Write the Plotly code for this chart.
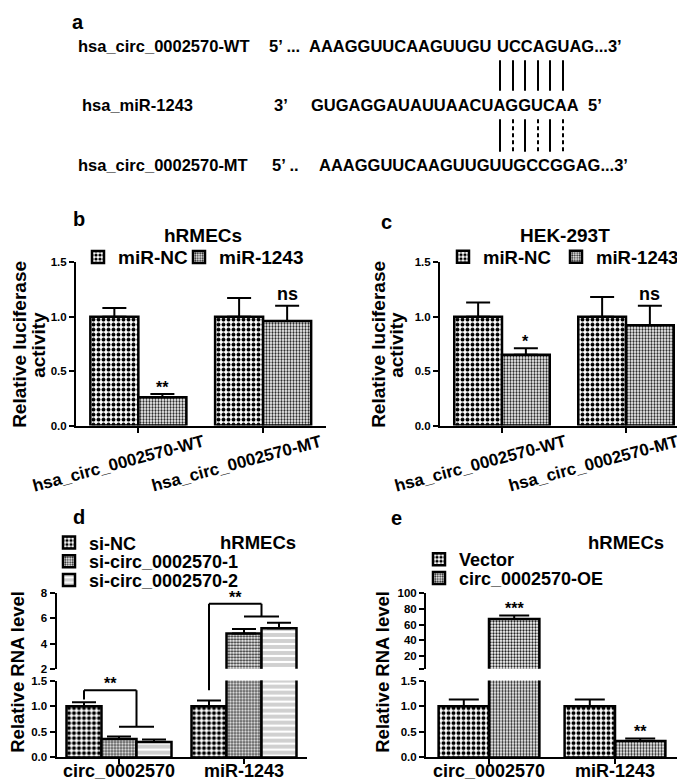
import plotly.graph_objects as go

# ---------------- data ----------------
groups_bc = ["hsa_circ_0002570-WT", "hsa_circ_0002570-MT"]
b_nc = [1.0, 1.0]
b_nc_err = [0.08, 0.17]
b_mir = [0.26, 0.96]
b_mir_err = [0.03, 0.14]
c_nc = [1.0, 1.0]
c_nc_err = [0.13, 0.18]
c_mir = [0.65, 0.92]
c_mir_err = [0.06, 0.18]

groups_de = ["circ_0002570", "miR-1243"]
d_nc = [1.0, 1.0]
d_nc_err = [0.08, 0.11]
d_si1 = [0.36, 4.8]
d_si1_err = [0.05, 0.35]
d_si2 = [0.30, 5.2]
d_si2_err = [0.05, 0.45]
e_vec = [1.0, 1.0]
e_vec_err = [0.13, 0.13]
e_oe = [67.0, 0.32]
e_oe_err = [4.5, 0.05]

bc_ticks = [0.0, 0.5, 1.0, 1.5]
low_ticks = [0.0, 0.5, 1.0, 1.5]
d_up_ticks = [2, 4, 6, 8]
e_up_ticks = [4, 20, 40, 60, 80, 100]

seq_wt = ["hsa_circ_0002570-WT", "5\u2019 ...", "AAAGGUUCAAGUUGU", "UCCAGUAG...3\u2019"]
seq_mir = ["hsa_miR-1243", "3\u2019", "GUGAGGAUAUUAACUAGGUCAA", "5\u2019"]
seq_mt = ["hsa_circ_0002570-MT", "5\u2019 ..", "AAAGGUUCAAGUUGUUGCCGGAG...3\u2019"]
pair_kind = ["solid", "dash", "solid", "dash", "solid", "dash"]

# ---------------- helpers ----------------
W, H = 685, 783
FONT = "Liberation Sans, Arial, sans-serif"


def px(x):
    return x / W


def py(y):
    return 1 - y / H


def to_paper(v, dom, rng):
    return dom[0] + (v - rng[0]) / (rng[1] - rng[0]) * (dom[1] - dom[0])


def bfont(size):
    return dict(family=FONT, size=size, color="black", weight="bold")


NC_PAT = dict(shape=".", size=5, solidity=0.5, fgcolor="black", bgcolor="white", fillmode="replace")
GRAY_PAT = dict(shape=".", size=3, solidity=0.45, fgcolor="#222222", bgcolor="white", fillmode="replace")
STRIPE_PAT = dict(shape="-", size=6, solidity=0.35, fgcolor="white", bgcolor="#d0d0d0", fillmode="replace")

xs = [0, 1]


def bar(y, err, name, pat, xa, ya, legend, width, offset, showlegend=True, capw=12):
    return go.Bar(
        x=xs, y=y, name=name, xaxis=xa, yaxis=ya, legend=legend, showlegend=showlegend,
        width=width, offset=offset,
        marker=dict(color=pat["bgcolor"], pattern=pat, line=dict(color="black", width=2.5)),
        error_y=dict(type="data", array=err, arrayminus=[0] * len(err), symmetric=False,
                     color="black", thickness=2, width=capw),
        hoverinfo="skip",
    )


fig = go.Figure()

# b
wb = 0.385
fig.add_trace(bar(b_nc, b_nc_err, "miR-NC", NC_PAT, "x", "y", "legend", wb, -wb))
fig.add_trace(bar(b_mir, b_mir_err, "miR-1243", GRAY_PAT, "x", "y", "legend2", wb, 0))
# c
fig.add_trace(bar(c_nc, c_nc_err, "miR-NC", NC_PAT, "x2", "y2", "legend3", wb, -wb))
fig.add_trace(bar(c_mir, c_mir_err, "miR-1243", GRAY_PAT, "x2", "y2", "legend4", wb, 0))
# d (lower + upper)
wd = 0.28
for ya, show in (("y3", True), ("y4", False)):
    fig.add_trace(bar(d_nc, d_nc_err, "si-NC", NC_PAT, "x3", ya, "legend5", wd, -1.5 * wd, show, 12))
    fig.add_trace(bar(d_si1, d_si1_err, "si-circ_0002570-1", GRAY_PAT, "x3", ya, "legend6", wd, -0.5 * wd, show, 12))
    fig.add_trace(bar(d_si2, d_si2_err, "si-circ_0002570-2", STRIPE_PAT, "x3", ya, "legend7", wd, 0.5 * wd, show, 12))
# e (lower + upper)
we = 0.4
for ya, show in (("y5", True), ("y6", False)):
    fig.add_trace(bar(e_vec, e_vec_err, "Vector", NC_PAT, "x4", ya, "legend8", we, -we, show, 15))
    fig.add_trace(bar(e_oe, e_oe_err, "circ_0002570-OE", GRAY_PAT, "x4", ya, "legend9", we, 0, show, 15))

# ---------------- axes ----------------
B_X = [px(68), px(317.5)]
C_X = [px(432), px(680)]
BC_Y = [py(418), py(252)]
D_X = [px(48.5), px(298.5)]
E_X = [px(418), px(670)]
LOW_Y = [py(755), py(677)]
D_UP_Y = [py(665), py(588)]
E_UP_Y = [py(665), py(588)]
LOW_R = [0, 1.5]
D_UP_R = [2, 8]
E_UP_R = [4, 100]
X_R = [-0.5, 1.5]

common = dict(showline=True, linecolor="black", linewidth=2, ticks="outside", ticklen=5,
              tickwidth=2, tickcolor="black", showgrid=False, zeroline=False, fixedrange=True,
              tickfont=bfont(11.5))


def xax(domain, anchor):
    return dict(common, domain=domain, range=X_R, anchor=anchor, tickvals=xs, showticklabels=False)


def yax(domain, rng, anchor, tv, tt):
    return dict(common, domain=domain, range=rng, anchor=anchor, tickvals=tv, ticktext=tt)


fmt1 = lambda v: "%.1f" % v
fig.update_layout(
    xaxis=xax(B_X, "y"),
    yaxis=yax(BC_Y, LOW_R, "x", bc_ticks, [fmt1(v) for v in bc_ticks]),
    xaxis2=xax(C_X, "y2"),
    yaxis2=yax(BC_Y, LOW_R, "x2", bc_ticks, [fmt1(v) for v in bc_ticks]),
    xaxis3=xax(D_X, "y3"),
    yaxis3=yax(LOW_Y, LOW_R, "x3", low_ticks, [fmt1(v) for v in low_ticks]),
    yaxis4=yax(D_UP_Y, D_UP_R, "x3", d_up_ticks, [str(v) for v in d_up_ticks]),
    xaxis4=xax(E_X, "y5"),
    yaxis5=yax(LOW_Y, LOW_R, "x4", low_ticks, [fmt1(v) for v in low_ticks]),
    yaxis6=yax(E_UP_Y, E_UP_R, "x4", e_up_ticks, ["" if v == 4 else str(v) for v in e_up_ticks]),
)


# ---------------- legends ----------------
def leg(x, y, size=19):
    return dict(x=px(x), y=py(y), xanchor="left", yanchor="middle", bgcolor="rgba(0,0,0,0)",
                borderwidth=0, font=bfont(size), orientation="v", itemclick=False,
                itemdoubleclick=False, itemwidth=30)


fig.update_layout(
    width=W, height=H, margin=dict(l=0, r=0, t=0, b=0),
    paper_bgcolor="white", plot_bgcolor="rgba(0,0,0,0)", barmode="overlay",
    legend=leg(70, 247), legend2=leg(171, 247),
    legend3=leg(435, 247, 18.5), legend4=leg(548, 247, 18.5),
    legend5=leg(41, 537, 18), legend6=leg(41, 556, 18), legend7=leg(41, 575, 18),
    legend8=leg(411, 554, 18), legend9=leg(411, 573, 18),
)

ann = []


def A(text, x, y, size=16.5, xanchor="left", yanchor="middle", **kw):
    ann.append(dict(text=text, x=px(x), y=py(y), xref="paper", yref="paper", showarrow=False,
                    xanchor=xanchor, yanchor=yanchor, font=bfont(size), **kw))


# panel a text
A(seq_wt[0], 68, 32); A(seq_wt[1], 259, 32); A(seq_wt[2], 299, 32); A(seq_wt[3], 487, 32)
A(seq_mir[0], 72, 92); A(seq_mir[1], 264, 92); A(seq_mir[2], 301, 92); A(seq_mir[3], 578, 92)
A(seq_mt[0], 68, 153); A(seq_mt[1], 262, 153); A(seq_mt[2], 309, 153)

shapes = []
pair_x = [492, 505, 517, 530, 542, 555]
for xx, kind in zip(pair_x, pair_kind):
    shapes.append(dict(type="line", xref="paper", yref="paper", x0=px(xx), x1=px(xx),
                       y0=py(47), y1=py(78), line=dict(color="black", width=2)))
    shapes.append(dict(type="line", xref="paper", yref="paper", x0=px(xx), x1=px(xx),
                       y0=py(107), y1=py(140),
                       line=dict(color="black", width=2, dash="solid" if kind == "solid" else "4px,3px")))

# panel letters
A("a", 70, 8, 20, "center"); A("b", 71, 208, 20, "center"); A("c", 379, 211, 20, "center")
A("d", 71, 511, 20, "center"); A("e", 388, 512, 20, "center")

# panel titles
A("hRMECs", 195, 225, 19, "center"); A("HEK-293T", 557, 225, 19, "center")
A("hRMECs", 250, 537, 18.5, "center"); A("hRMECs", 618, 537, 18.5, "center")

# y-axis titles
A("Relative luciferase", 12, 336, 19, "center", textangle=-90)
A("activity", 31, 336, 19, "center", textangle=-90)
A("Relative luciferase", 371, 336, 19, "center", textangle=-90)
A("activity", 389, 336, 19, "center", textangle=-90)
A("Relative RNA level", 10, 668, 18.5, "center", textangle=-90)
A("Relative RNA level", 375, 668, 18.5, "center", textangle=-90)

# rotated category labels for b and c
for xa, xv, lab in (("x", -0.16, groups_bc[0]), ("x", 0.79, groups_bc[1]),
                    ("x2", -0.17, groups_bc[0]), ("x2", 0.74, groups_bc[1])):
    ann.append(dict(text=lab, x=xv, y=py(456), xref=xa, yref="paper", showarrow=False,
                    textangle=-15, font=bfont(17), xanchor="center", yanchor="middle"))

# category labels for d and e
for xa in ("x3", "x4"):
    for xv, lab in zip(xs, groups_de):
        ann.append(dict(text=lab, x=xv, y=py(769), xref=xa, yref="paper", showarrow=False,
                        font=bfont(18), xanchor="center", yanchor="middle"))


def star(text, xa, ya, x, y, size=16, yshift=-4):
    ann.append(dict(text=text, x=x, y=y, xref=xa, yref=ya, showarrow=False, xanchor="center",
                    yanchor="bottom", font=bfont(size), yshift=yshift))


star("**", "x", "y", 0.5 * wb, b_mir[0] + b_mir_err[0])
star("ns", "x", "y", 1 + 0.5 * wb, b_mir[1] + b_mir_err[1], 18, 0)
star("*", "x2", "y2", 0.5 * wb, c_mir[0] + c_mir_err[0])
star("ns", "x2", "y2", 1 + 0.5 * wb, c_mir[1] + c_mir_err[1], 18, 0)
star("***", "x4", "y6", 0.5 * we, e_oe[0] + e_oe_err[0])
star("**", "x4", "y5", 1 + 0.5 * we, e_oe[1] + e_oe_err[1])

# significance brackets in d
circ_br = dict(left=-wd, right=0.5 * wd, y_low=1.13, y_top=1.31, y_sub=0.6)
mir_br = dict(left=1 - wd, right=1 + 0.5 * wd, y_low=1.31, y_top=7.14, y_sub=6.13)


def seg(xa, ya, x0, y0, x1, y1):
    shapes.append(dict(type="line", xref=xa, yref=ya, x0=x0, y0=y0, x1=x1, y1=y1,
                       line=dict(color="black", width=2)))


seg("x3", "y3", circ_br["left"], circ_br["y_low"], circ_br["left"], circ_br["y_top"])
seg("x3", "y3", circ_br["left"], circ_br["y_top"], circ_br["right"], circ_br["y_top"])
seg("x3", "y3", circ_br["right"], circ_br["y_top"], circ_br["right"], circ_br["y_sub"])
seg("x3", "y3", 0, circ_br["y_sub"], wd, circ_br["y_sub"])
star("**", "x3", "y3", (circ_br["left"] + circ_br["right"]) / 2, circ_br["y_top"])

seg("x3", "paper", mir_br["left"], to_paper(mir_br["y_low"], LOW_Y, LOW_R),
    mir_br["left"], to_paper(mir_br["y_top"], D_UP_Y, D_UP_R))
seg("x3", "y4", mir_br["left"], mir_br["y_top"], mir_br["right"], mir_br["y_top"])
seg("x3", "y4", mir_br["right"], mir_br["y_top"], mir_br["right"], mir_br["y_sub"])
seg("x3", "y4", 1, mir_br["y_sub"], 1 + wd, mir_br["y_sub"])
star("**", "x3", "y4", (mir_br["left"] + mir_br["right"]) / 2, mir_br["y_top"])

fig.update_layout(annotations=ann, shapes=shapes)
fig.write_html("out.html")
